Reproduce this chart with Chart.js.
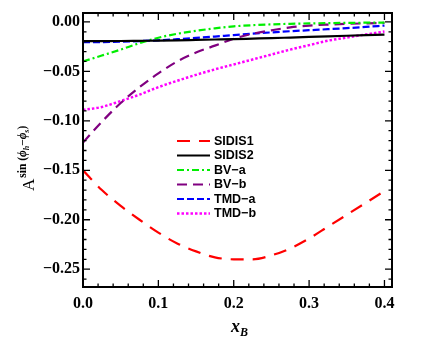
<!DOCTYPE html>
<html>
<head>
<meta charset="utf-8">
<script src="https://cdn.jsdelivr.net/npm/chart.js@4.4.1/dist/chart.umd.min.js"></script>
<style>
  html, body { margin: 0; padding: 0; background: #fff; }
</style>
</head>
<body>
<canvas id="asymChart" width="436" height="354"></canvas>
<script>
// DATA
const xB = [0, 0.025, 0.05, 0.075, 0.1, 0.125, 0.15, 0.175, 0.2, 0.225, 0.25, 0.275, 0.3, 0.325, 0.35, 0.375, 0.4];

const sidis1 = [-0.150, -0.170, -0.186, -0.200, -0.213, -0.224, -0.232, -0.238, -0.240, -0.240, -0.236, -0.229, -0.219, -0.207, -0.195, -0.183, -0.171];
const sidis2 = [-0.0195, -0.0194, -0.0193, -0.0191, -0.0189, -0.0186, -0.0182, -0.0178, -0.0174, -0.0169, -0.0164, -0.0158, -0.0152, -0.0146, -0.0140, -0.0134, -0.0128];
const bvA    = [-0.040, -0.034, -0.028, -0.0215, -0.016, -0.012, -0.009, -0.0065, -0.0045, -0.0033, -0.0025, -0.0019, -0.0015, -0.0012, -0.0010, -0.0008, -0.0007];
const bvB    = [-0.122, -0.101, -0.082, -0.066, -0.052, -0.040, -0.031, -0.024, -0.017, -0.012, -0.0085, -0.0055, -0.0037, -0.0027, -0.0020, -0.0015, -0.0010];
const tmdA   = [-0.0205, -0.0204, -0.0200, -0.0194, -0.0186, -0.0175, -0.0162, -0.0148, -0.0133, -0.0119, -0.0106, -0.0094, -0.0084, -0.0074, -0.0063, -0.0051, -0.0037];
const tmdB   = [-0.089, -0.086, -0.080, -0.0735, -0.066, -0.0595, -0.0535, -0.048, -0.043, -0.038, -0.033, -0.028, -0.0235, -0.019, -0.0158, -0.0127, -0.0098];

const seriesNames = ["SIDIS1", "SIDIS2", "BV\u2212a", "BV\u2212b", "TMD\u2212a", "TMD\u2212b"];

// tick marks
const xMajorTicks = [0, 0.1, 0.2, 0.3, 0.4];
const xMinorTicks = [0.02, 0.04, 0.06, 0.08, 0.12, 0.14, 0.16, 0.18, 0.22, 0.24, 0.26, 0.28, 0.32, 0.34, 0.36, 0.38];
const yMajorTicks = [-0.25, -0.20, -0.15, -0.10, -0.05, 0];
const yMinorTicks = [-0.26, -0.24, -0.23, -0.22, -0.21, -0.19, -0.18, -0.17, -0.16, -0.14, -0.13, -0.12, -0.11, -0.09, -0.08, -0.07, -0.06, -0.04, -0.03, -0.02, -0.01];

const X_MIN = 0, X_MAX = 0.41;
const Y_MIN = -0.268, Y_MAX = 0.009;

// helpers
const pts = ys => ys.map((y, i) => ({ x: xB[i], y: y }));

function makeSet(label, ys, color, dash, width) {
  return {
    label: label,
    data: pts(ys),
    borderColor: color,
    backgroundColor: color,
    borderWidth: width,
    borderDash: dash,
    pointRadius: 0,
    cubicInterpolationMode: "monotone",
    fill: false
  };
}

const datasets = [
  makeSet(seriesNames[0], sidis1, "#ff0000", [13, 9], 2.2),
  makeSet(seriesNames[1], sidis2, "#000000", [], 2.2),
  makeSet(seriesNames[2], bvA, "#00ee00", [7, 3, 2, 3], 2.2),
  makeSet(seriesNames[3], bvB, "#800080", [10, 6], 2.2),
  makeSet(seriesNames[4], tmdA, "#0000ff", [7, 3], 2.2),
  makeSet(seriesNames[5], tmdB, "#ff00ff", [2.5, 2], 2.5)
];

const SERIF = "'Liberation Serif', 'Times New Roman', serif";

// frame, inward ticks, axis titles and legend
const decorPlugin = {
  id: "decor",
  afterDatasetsDraw(chart) {
    const c = chart.ctx;
    const a = chart.chartArea;
    const xs = chart.scales.x, ys = chart.scales.y;
    c.save();
    c.setLineDash([]);
    c.strokeStyle = "#000";

    // ticks
    c.lineWidth = 1.3;
    const tick = (vals, len, isX) => {
      vals.forEach(v => {
        c.beginPath();
        if (isX) {
          const px = xs.getPixelForValue(v);
          c.moveTo(px, a.bottom); c.lineTo(px, a.bottom - len);
          c.moveTo(px, a.top); c.lineTo(px, a.top + len);
        } else {
          const py = ys.getPixelForValue(v);
          c.moveTo(a.left, py); c.lineTo(a.left + len, py);
          c.moveTo(a.right, py); c.lineTo(a.right - len, py);
        }
        c.stroke();
      });
    };
    tick(xMajorTicks, 7, true);
    tick(xMinorTicks, 3.5, true);
    tick(yMajorTicks, 7, false);
    tick(yMinorTicks, 3.5, false);

    // frame
    c.lineWidth = 2;
    c.strokeRect(a.left, a.top, a.right - a.left, a.bottom - a.top);

    // legend
    const lx = 177, ly = 141, rowH = 14.5;
    c.font = "bold 12.5px 'Liberation Sans', Arial, sans-serif";
    c.textBaseline = "middle";
    c.textAlign = "left";
    chart.data.datasets.forEach((ds, i) => {
      const y = ly + i * rowH;
      c.beginPath();
      c.strokeStyle = ds.borderColor;
      c.lineWidth = ds.borderWidth;
      c.setLineDash(ds.borderDash);
      c.moveTo(lx, y); c.lineTo(lx + 33, y);
      c.stroke();
      c.setLineDash([]);
      c.fillStyle = "#000";
      c.fillText(ds.label, lx + 37, y + 0.5);
    });

    // x axis title: x_B
    c.fillStyle = "#000";
    c.textBaseline = "alphabetic";
    c.font = "italic bold 18px " + SERIF;
    c.fillText("x", 231, 332);
    c.font = "italic bold 12px " + SERIF;
    c.fillText("B", 240, 336);

    // y axis title: A^{sin(phi_h - phi_s)}
    c.translate(34, 191);
    c.rotate(-Math.PI / 2);
    let x = 0;
    const put = (txt, font, dy) => {
      c.font = font;
      c.fillText(txt, x, dy);
      x += c.measureText(txt).width;
    };
    const big = "17px " + SERIF;
    const sup = "bold 11.5px " + SERIF;
    const supI = "italic bold 11.5px " + SERIF;
    const sub = "italic bold 8px " + SERIF;
    put("A", big, 0);
    x += 1;
    put("sin (", sup, -8);
    put("\u03D5", supI, -8);
    put("h", sub, -5);
    put("\u2212", sup, -8);
    put("\u03D5", supI, -8);
    put("s", sub, -5);
    put(")", sup, -8);
    c.restore();
  }
};

const ctx = document.getElementById("asymChart").getContext("2d");
const chart = new Chart(ctx, {
  type: "line",
  data: { datasets: datasets },
  options: {
    responsive: false,
    animation: false,
    layout: { padding: { top: 13, right: 44, left: 0, bottom: 0 } },
    scales: {
      x: {
        type: "linear",
        min: X_MIN,
        max: X_MAX,
        afterBuildTicks: s => { s.ticks = xMajorTicks.map(v => ({ value: v })); },
        afterFit: s => { s.height = 67; },
        grid: { display: false, drawTicks: false },
        border: { display: false },
        ticks: {
          padding: 7,
          color: "#000",
          font: { family: SERIF, size: 16, weight: "bold" },
          maxRotation: 0,
          callback: v => v.toFixed(1)
        }
      },
      y: {
        type: "linear",
        min: Y_MIN,
        max: Y_MAX,
        afterBuildTicks: s => { s.ticks = yMajorTicks.map(v => ({ value: v })); },
        afterFit: s => { s.width = 83; },
        grid: { display: false, drawTicks: false },
        border: { display: false },
        ticks: {
          padding: 3,
          color: "#000",
          font: { family: SERIF, size: 16, weight: "bold" },
          callback: v => (v < 0 ? "\u2212" : "") + Math.abs(v).toFixed(2)
        }
      }
    },
    plugins: {
      legend: { display: false },
      tooltip: { enabled: false }
    }
  },
  plugins: [decorPlugin]
});
</script>
</body>
</html>
